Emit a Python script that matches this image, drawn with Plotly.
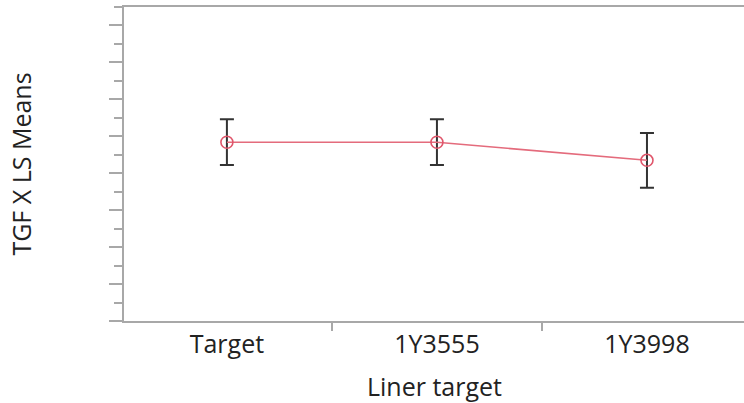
import plotly.graph_objects as go

# LS means of TGF X by liner target, with error bars
liner_targets = ["Target", "1Y3555", "1Y3998"]
ls_means = [4.84, 4.84, 4.35]
error_half_width = [0.62, 0.62, 0.74]

font_family = "Open Sans, Noto Sans, sans-serif"
axis_gray = "#a8a8a8"
text_color = "#222222"

fig = go.Figure()
fig.add_trace(go.Scatter(
    x=liner_targets,
    y=ls_means,
    mode="lines+markers",
    line=dict(color="#e46b7c", width=1.6),
    marker=dict(symbol="circle-open", size=12, color="#e0566b",
                line=dict(width=1.6, color="#e0566b")),
    error_y=dict(type="data", array=error_half_width, visible=True,
                 color="#333333", thickness=2, width=7),
    showlegend=False,
))

fig.update_layout(
    width=744, height=403,
    margin=dict(l=124, r=0, t=7, b=82),
    paper_bgcolor="white", plot_bgcolor="white",
    font=dict(family=font_family, size=25, color=text_color),
)

# start just inside the first category boundary so no tick sits on the corner
fig.update_xaxes(
    type="category",
    range=[-0.49, 2.462],
    tickson="boundaries",
    ticks="outside", ticklen=8, tickwidth=2, tickcolor=axis_gray,
    showline=True, linecolor=axis_gray, linewidth=2, mirror=True,
    showgrid=False, zeroline=False,
    tickfont=dict(size=25, color=text_color),
    title=None,
)

fig.update_yaxes(
    range=[0, 8.5],
    dtick=1, tick0=0,
    ticks="outside", ticklen=13, tickwidth=2, tickcolor=axis_gray,
    minor=dict(dtick=0.5, tick0=0, ticks="outside", ticklen=8,
               tickwidth=2, tickcolor=axis_gray, showgrid=False),
    showticklabels=False,
    showline=True, linecolor=axis_gray, linewidth=2,
    showgrid=False, zeroline=False,
    title=dict(text="TGF X LS Means", font=dict(size=25, color=text_color), standoff=70),
)

# x-axis title placed below the category labels
fig.add_annotation(
    text="Liner target", xref="paper", yref="paper",
    x=0.5, y=0, yshift=-65, xanchor="center", yanchor="middle",
    showarrow=False, font=dict(size=25, color=text_color),
)

fig.write_html("out.html")
